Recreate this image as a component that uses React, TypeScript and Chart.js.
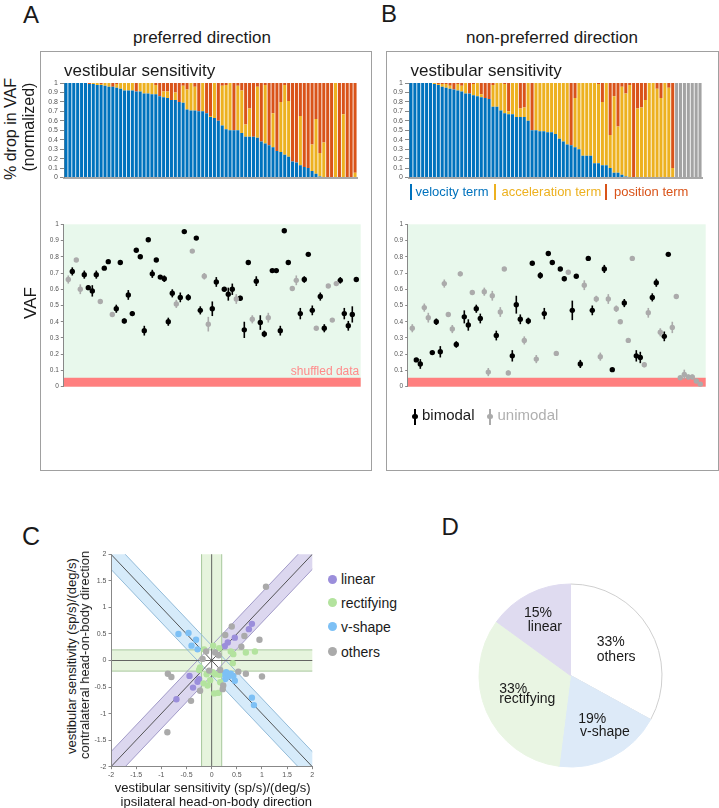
import React, { useEffect, useRef } from 'react';
import { Chart, registerables } from 'chart.js';

Chart.register(...registerables);

const FONT = '"Liberation Sans", Arial, Helvetica, sans-serif';
Chart.defaults.font.family = FONT;

// ---------- Panel A / B : normalized drop in VAF (stacked bars) ----------
// velocity share (bottom of each bar)
const VEL_A = [1,1,1,1,1,1,0.99,0.99,0.98,0.98, 0.97,0.96,0.96,0.95,0.94,0.92,0.92,0.92,0.91,0.91,
  0.89,0.89,0.88,0.88,0.86,0.85,0.84,0.82,0.82,0.80, 0.79,0.72,0.71,0.71,0.70,0.70,0.68,0.64,0.63,0.60,
  0.55,0.51,0.50,0.50,0.50,0.47,0.43,0.43,0.43,0.42, 0.38,0.36,0.34,0.32,0.28,0.27,0.24,0.22,0.17,0.16,
  0.13,0.11,0.10,0.07,0.04,0.01,0,0,0,0, 0,0,0,0,0];
// top of the acceleration share (velocity + acceleration); position term fills the rest to 1
const VEL_ACC_A = [1,1,1,1,1,1,0.99,1,1,0.99, 1,1,0.96,0.99,1,1,1,1,0.91,1,
  1,1,1,0.98,0.86,0.91,0.91,0.82,0.90,0.80, 0.97,0.93,1,0.96,0.70,1,0.68,0.65,1,0.60,
  0.97,0.98,1,0.50,0.97,0.92,0.56,0.73,0.43,0.96, 0.38,0.98,0.34,0.68,0.28,0.80,0.98,0.81,0.17,0.16,
  0.65,0.11,0.10,0.35,0.62,0.26,0.37,0,0,1, 0,0.67,0,0,0.05];
// null = neuron without fit (grey bar)
const VEL_B = [1,1,1,1,1,1,0.99,0.98,0.96,0.95, 0.94,0.93,0.92,0.91,0.89,0.89,0.87,0.86,0.85,0.84,
  0.83,0.75,0.75,0.71,0.68,0.67,0.67,0.64,0.64,0.64, 0.60,0.50,0.50,0.49,0.49,0.48,0.48,0.46,0.41,0.38,
  0.35,0.34,0.32,0.30,0.23,0.23,0.23,0.15,0.15,0.13, 0.13,0.10,0.05,0.05,0.03,0.01,0.005,0,0,0,
  0,0,0,0,0,0,0,0, null,null,null,null,null,null,null];
const VEL_ACC_B = [1,1,1,1,1,1,1,0.99,0.99,0.99, 0.97,0.93,0.99,0.97,1,0.89,0.99,1,0.88,0.84,
  0.83,0.98,1,1,0.99,0.70,1,1,0.73,0.74, 1,0.50,1,1,1,1,1,1,1,1,
  1,0.34,0.84,1,1,1,1,1,0.99,0.80, 1,0.45,0.86,0.54,0.96,0.89,0.98,0,0.73,0.74,
  0.82,1,1,0.94,0.84,1,0.95,0.10, null,null,null,null,null,null,null];

// ---------- Panel A / B : VAF per neuron ----------
const VAF_A = [0.66,0.71,0.78,0.60,0.69,0.61,0.59,0.69,0.525,0.73,
  0.77,0.445,0.48,0.765,0.405,0.565,0.45,0.84,0.80,0.345,
  0.905,0.695,0.78,0.675,0.665,0.40,0.575,0.51,0.55,0.955,
  0.55,0.835,0.915,0.47,0.68,0.385,0.48,0.645,null,0.60,
  0.57,0.60,0.54,0.545,0.35,0.765,0.415,0.65,0.395,0.325,
  0.425,0.715,0.715,0.345,0.96,0.765,0.605,0.655,0.45,0.66,
  0.815,0.47,0.36,0.555,0.36,0.62,0.41,0.635,0.655,0.45,
  0.375,0.445,0.66];
const ERR_A = [0.025,0.025,0.01,0.03,0.025,0.015,0.035,0.025,0.01,0.01,
  0.01,0.015,0.025,0.01,0.015,0.03,0.015,0.01,0.01,0.03,
  0.01,0.025,0.01,0.01,0.02,0.025,0.025,0.025,0.03,0.01,
  0.02,0.01,0.01,0.025,0.02,0.045,0.045,0.03,0,0.01,
  0.04,0.035,0.03,0.015,0.05,0.01,0.025,0.03,0.045,0.02,
  0.03,0.01,0.01,0.03,0.01,0.01,0.015,0.03,0.035,0.02,
  0.01,0.03,0.01,0.025,0.025,0.01,0.01,0.015,0.02,0.035,
  0.03,0.05,0.01];
const BIMODAL_A = [0,1,0,0,1,1,1,1,0,1, 1,0,1,1,1,1,1,1,1,1, 1,1,1,1,1,1,1,0,1,1,
  1,0,1,1,0,0,1,1,0,1, 1,1,0,1,1,1,0,1,1,1, 0,1,1,1,1,1,0,0,1,1, 1,1,0,1,1,0,0,0,1,1, 1,1,1];

const VAF_B = [0.36,0.165,0.14,0.487,0.425,0.21,0.40,0.215,0.635,0.445,
  0.355,0.26,0.695,0.43,0.38,0.58,0.48,0.42,0.585,0.09,
  0.56,0.315,0.46,0.725,0.085,0.19,0.505,0.415,0.285,0.405,
  0.76,0.17,0.685,0.45,0.82,0.765,0.205,0.725,0.665,0.705,
  0.47,0.68,0.14,0.625,0.79,0.47,0.54,0.185,0.725,0.54,
  0.105,0.48,0.40,0.515,0.285,0.79,0.19,0.18,0.135,0.455,
  0.55,0.64,0.335,0.31,0.815,0.365,0.555,0.055,0.075,0.06,
  0.06,0.035,0.015];
const ERR_B = [0.025,0.01,0.03,0.025,0.03,0.01,0.02,0.035,0.025,0.015,
  0.025,0.02,0.015,0.04,0.035,0.01,0.025,0.03,0.025,0.025,
  0.03,0.03,0.03,0.01,0.015,0.035,0.055,0.03,0.025,0.02,
  0.01,0.025,0.02,0.035,0.01,0.01,0.015,0.01,0.015,0.01,
  0.06,0.01,0.025,0.03,0.01,0.03,0.02,0.025,0.025,0.03,
  0.01,0.02,0.01,0.025,0.015,0.01,0.035,0.035,0.015,0.03,
  0.025,0.025,0.025,0.03,0.01,0.035,0.015,0.01,0.03,0.015,
  0.015,0.01,0.01];
const BIMODAL_B = [0,1,1,0,0,1,1,1,0,0, 0,1,0,1,1,0,1,1,0,0, 0,1,0,0,0,1,1,1,0,1,
  1,0,1,1,1,1,0,1,1,0, 1,1,1,0,1,1,0,0,1,0, 1,0,0,1,0,0,1,1,0,0, 1,1,0,1,1,0,0,0,0,0, 0,0,0];
const SHUFFLED_VAF = 0.055;

// ---------- Panel C : sensitivities (ipsi, contra) ----------
const LINEAR_X = [0.80,0.74,0.46,0.32,0.26,-0.44,-0.25,-0.28,-0.37,-0.70];
const LINEAR_Y = [0.69,0.59,0.43,0.34,0.27,-0.29,-0.35,-0.40,-0.51,-0.73];
const RECT_X = [0.03,0.15,-0.15,0.38,0.43,0.68,0.86,0.42,-0.23,-0.25,-0.10,0.02,0.07,0.15,-0.03,-0.16,-0.08,0.17,0.05,0.13];
const RECT_Y = [0.28,0.23,0.21,0.17,0.12,0.15,0.17,-0.05,-0.13,-0.18,-0.26,-0.22,-0.26,-0.27,-0.37,-0.43,-0.47,-0.41,-0.62,-0.61];
const VSHAPE_X = [-0.66,-0.46,-0.31,-0.40,-0.28,0.23,0.29,0.33,0.27,0.38,0.43,0.46,0.80,0.84];
const VSHAPE_Y = [0.50,0.52,0.39,0.28,0.21,-0.25,-0.22,-0.30,-0.35,-0.25,-0.29,-0.38,-0.70,-0.84];
const OTHERS_X = [1.08,0.40,0.27,0.65,0.95,0.59,-0.11,0.07,-0.18,0.14,-0.87,-0.80,-0.05,0.53,0.68,1.0,0.17,0.23,0.22,-0.23,-0.41,-0.88];
const OTHERS_Y = [1.39,0.64,0.48,0.46,0.39,0.26,0.17,0.15,0.03,0.10,-0.25,-0.31,-0.19,-0.21,-0.25,-0.30,-0.18,-0.47,-0.54,-0.57,-0.76,-1.35];
const BAND_HALF = 0.2;

// ---------- Panel D : class shares ----------
const CLASS_NAMES = ['others', 'v-shape', 'rectifying', 'linear'];
const CLASS_PERCENT = [33, 19, 33, 15];

// ---------- colours ----------
const BLUE = '#0072BD', YELLOW = '#EDB120', ORANGE = '#D95319', NOFIT = '#A3A3A3';
const BIMODAL_COLOR = '#000000', UNIMODAL_COLOR = '#ABABAB';
const VAF_BG = '#E8F8EC', SHUFFLE_RED = '#FF7F7F';
const C_LINEAR = '#9B8EDB', C_RECT = '#B3E39E', C_VSHAPE = '#7DC0F5', C_OTHERS = '#AAAAAA';

const fmt = (v: any) => String(Math.round(Number(v) * 10) / 10);

function ChartCanvas({ left, top, width, height, make }: any) {
  const ref = useRef<HTMLCanvasElement>(null);
  useEffect(() => {
    const chart = new Chart(ref.current as HTMLCanvasElement, make());
    return () => chart.destroy();
  }, []);
  return <canvas ref={ref} width={width} height={height}
    style={{ position: 'absolute', left, top, width, height }} />;
}

function Txt({ x, y, size, color = '#1a1a1a', align = 'left', rotate = 0, children }: any) {
  const tx = align === 'center' ? '-50%' : align === 'right' ? '-100%' : '0';
  return (
    <div style={{
      position: 'absolute', left: x, top: y, fontSize: size, lineHeight: 1, fontFamily: FONT,
      color, whiteSpace: 'nowrap', transformOrigin: '0 0',
      transform: `rotate(${rotate}deg) translate(${tx}, -0.8465em)`,
    }}>{children}</div>
  );
}

function yAxisFraction(width: number, fontSize: number, tickLen: number) {
  return {
    min: 0, max: 1,
    afterFit: (s: any) => { s.width = width; },
    ticks: { stepSize: 0.1, autoSkip: false, font: { size: fontSize }, color: '#555', padding: 2, callback: fmt },
    grid: { drawOnChartArea: false, tickLength: tickLen, color: '#888' },
    border: { color: '#888' },
  };
}

function barConfig(vel: (number | null)[], velAcc: (number | null)[]) {
  const labels = vel.map((_, i) => String(i + 1));
  const velSeg = vel.map(v => (v == null ? 0 : v));
  const accSeg = vel.map((v, i) => (v == null ? 0 : (velAcc[i] as number) - v));
  const posSeg = velAcc.map(t => (t == null ? 0 : 1 - t));
  const nofit = vel.map(v => (v == null ? 1 : 0));
  return {
    type: 'bar',
    data: {
      labels,
      datasets: [
        { label: 'velocity term', data: velSeg, backgroundColor: BLUE },
        { label: 'acceleration term', data: accSeg, backgroundColor: YELLOW },
        { label: 'position term', data: posSeg, backgroundColor: ORANGE },
        { label: 'no fit', data: nofit, backgroundColor: NOFIT },
      ],
    },
    options: {
      animation: false, responsive: false, events: [],
      layout: { padding: { top: 8, right: 8, bottom: 5.5, left: 0 } },
      datasets: { bar: { categoryPercentage: 1, barPercentage: 0.78, borderWidth: 0 } },
      plugins: { legend: { display: false }, tooltip: { enabled: false } },
      scales: {
        x: {
          stacked: true,
          afterFit: (s: any) => { s.height = 2; },
          ticks: { display: false },
          grid: { display: false, drawTicks: false },
          border: { display: true, color: '#A8A8A8', width: 2 },
        },
        y: { stacked: true, ...yAxisFraction(44, 7, 4) },
      },
    },
  };
}

function vafConfig(vaf: (number | null)[], err: number[], bimodal: number[], yWidth: number, xMin: number, xMax: number) {
  const pts = (flag: number) => vaf
    .map((v, i) => (v != null && bimodal[i] === flag ? { x: i, y: v } : null))
    .filter(Boolean);
  const bgPlugin = {
    id: 'vafBackground',
    beforeDraw(chart: any) {
      const { ctx, chartArea: a, scales: { y } } = chart;
      const top = y.getPixelForValue(1), bottom = y.getPixelForValue(0);
      const s = y.getPixelForValue(SHUFFLED_VAF);
      ctx.save();
      ctx.fillStyle = VAF_BG;
      ctx.fillRect(a.left, top, a.right - a.left, bottom - top);
      ctx.fillStyle = SHUFFLE_RED;
      ctx.fillRect(a.left, s, a.right - a.left, bottom - s);
      ctx.restore();
    },
  };
  const errPlugin = {
    id: 'errorBars',
    beforeDatasetsDraw(chart: any) {
      const { ctx, scales: { x, y } } = chart;
      ctx.save();
      ctx.lineWidth = 1.6;
      vaf.forEach((v, i) => {
        if (v == null) return;
        ctx.strokeStyle = bimodal[i] ? BIMODAL_COLOR : UNIMODAL_COLOR;
        const px = x.getPixelForValue(i);
        ctx.beginPath();
        ctx.moveTo(px, y.getPixelForValue(v - err[i]));
        ctx.lineTo(px, y.getPixelForValue(v + err[i]));
        ctx.stroke();
      });
      ctx.restore();
    },
  };
  return {
    type: 'scatter',
    data: {
      datasets: [
        { label: 'unimodal', data: pts(0), backgroundColor: UNIMODAL_COLOR, pointRadius: 2.7, pointBorderWidth: 0 },
        { label: 'bimodal', data: pts(1), backgroundColor: BIMODAL_COLOR, pointRadius: 2.7, pointBorderWidth: 0 },
      ],
    },
    options: {
      animation: false, responsive: false, events: [],
      layout: { padding: { top: 8.3, right: 8.3, bottom: 9.3, left: 0 } },
      plugins: { legend: { display: false }, tooltip: { enabled: false } },
      scales: {
        x: { type: 'linear', min: xMin, max: xMax, display: false },
        y: yAxisFraction(yWidth, 6.5, 2.5),
      },
    },
    plugins: [bgPlugin, errPlugin],
  };
}

function sensConfig() {
  const toPts = (xs: number[], ys: number[]) => xs.map((x, i) => ({ x, y: ys[i] }));
  const bandPlugin = {
    id: 'classBands',
    beforeDraw(chart: any) {
      const { ctx, chartArea: a, scales: { x, y } } = chart;
      const W = BAND_HALF, D = BAND_HALF * Math.SQRT2, E = 3;
      const P = (vx: number, vy: number): [number, number] => [x.getPixelForValue(vx), y.getPixelForValue(vy)];
      const poly = (pts: number[][], fill: string) => {
        ctx.beginPath();
        pts.forEach((p, i) => { const [px, py] = P(p[0], p[1]); if (i) ctx.lineTo(px, py); else ctx.moveTo(px, py); });
        ctx.closePath();
        ctx.fillStyle = fill;
        ctx.fill();
      };
      const line = (x1: number, y1: number, x2: number, y2: number, color: string, w: number) => {
        const [a1, b1] = P(x1, y1), [a2, b2] = P(x2, y2);
        ctx.beginPath(); ctx.moveTo(a1, b1); ctx.lineTo(a2, b2);
        ctx.strokeStyle = color; ctx.lineWidth = w; ctx.stroke();
      };
      ctx.save();
      ctx.beginPath();
      ctx.rect(a.left, a.top, a.right - a.left, a.bottom - a.top);
      ctx.clip();
      const green = '#E6F4DD', purple = '#DCD7EF', blue = '#D6EBFA';
      // rectifying: horizontal and vertical bands outside the central square
      poly([[W, -W], [E, -W], [E, W], [W, W]], green);
      poly([[-E, -W], [-W, -W], [-W, W], [-E, W]], green);
      poly([[-W, W], [W, W], [W, E], [-W, E]], green);
      poly([[-W, -E], [W, -E], [W, -W], [-W, -W]], green);
      // linear: band around y = x
      poly([[W, W], [W, W + D], [E - D, E], [E, E], [E, E - D], [W + D, W]], purple);
      poly([[-W, -W], [-W, -W - D], [-E + D, -E], [-E, -E], [-E, -E + D], [-W - D, -W]], purple);
      // v-shape: band around y = -x
      poly([[-W, W], [-W, W + D], [D - E, E], [-E, E], [-E, E - D], [-W - D, W]], blue);
      poly([[W, -W], [W, -W - D], [E - D, -E], [E, -E], [E, D - E], [W + D, -W]], blue);
      // band edges
      const gEdge = '#A7C79C', pEdge = '#A29BC8', bEdge = '#93BBD8';
      line(-E, W, E, W, gEdge, 1); line(-E, -W, E, -W, gEdge, 1);
      line(W, -E, W, E, gEdge, 1); line(-W, -E, -W, E, gEdge, 1);
      line(-E, -E + D, E, E + D, pEdge, 1); line(-E, -E - D, E, E - D, pEdge, 1);
      line(-E, E + D, E, -E + D, bEdge, 1); line(-E, E - D, E, -E - D, bEdge, 1);
      // centre lines
      line(-E, 0, E, 0, '#555', 0.9); line(0, -E, 0, E, '#555', 0.9);
      line(-E, -E, E, E, '#444', 0.9); line(-E, E, E, -E, '#444', 0.9);
      ctx.restore();
    },
  };
  const axis = (isX: boolean) => ({
    type: 'linear', min: -2, max: 2,
    afterFit: (s: any) => { if (isX) s.height = 14; else s.width = 31; },
    ticks: { stepSize: 0.5, autoSkip: false, maxRotation: 0, font: { size: 7 }, color: '#555', padding: 2, callback: fmt },
    grid: { drawOnChartArea: false, tickLength: 2.5, color: '#888' },
    border: { color: '#888' },
  });
  return {
    type: 'scatter',
    data: {
      datasets: [
        { label: 'others', data: toPts(OTHERS_X, OTHERS_Y), backgroundColor: C_OTHERS },
        { label: 'rectifying', data: toPts(RECT_X, RECT_Y), backgroundColor: C_RECT },
        { label: 'v-shape', data: toPts(VSHAPE_X, VSHAPE_Y), backgroundColor: C_VSHAPE },
        { label: 'linear', data: toPts(LINEAR_X, LINEAR_Y), backgroundColor: C_LINEAR },
      ],
    },
    options: {
      animation: false, responsive: false, events: [],
      elements: { point: { radius: 3.2, borderWidth: 0 } },
      layout: { padding: { top: 8.3, right: 7.7, bottom: 3.3, left: 0 } },
      plugins: { legend: { display: false }, tooltip: { enabled: false } },
      scales: { x: axis(true), y: axis(false) },
    },
    plugins: [bandPlugin],
  };
}

function pieConfig() {
  return {
    type: 'pie',
    data: {
      labels: CLASS_NAMES,
      datasets: [{
        data: CLASS_PERCENT,
        backgroundColor: ['#FFFFFF', '#DDEAF8', '#E9F5E3', '#DFDBF0'],
        borderColor: ['#CFCFCF', '#DDEAF8', '#E9F5E3', '#DFDBF0'],
        borderWidth: 1,
      }],
    },
    options: {
      animation: false, responsive: false, events: [],
      layout: { padding: 8.5 },
      plugins: { legend: { display: false }, tooltip: { enabled: false } },
    },
  };
}

const Box = ({ l, t, r, b }: any) => (
  <div style={{ position: 'absolute', left: l, top: t, width: r - l, height: b - t, border: '1px solid #A0A0A0', boxSizing: 'border-box' }} />
);
const VLine = ({ x, y1, y2, w, color }: any) => (
  <div style={{ position: 'absolute', left: x - w / 2, top: y1, width: w, height: y2 - y1, background: color }} />
);
const Dot = ({ x, y, d, color }: any) => (
  <div style={{ position: 'absolute', left: x - d / 2, top: y - d / 2, width: d, height: d, borderRadius: '50%', background: color }} />
);

export default function App() {
  return (
    <div style={{ position: 'absolute', left: 0, top: 0, width: 719, height: 808, overflow: 'hidden', background: '#fff', fontFamily: FONT }}>
      <Box l={40} t={51} r={372} b={471} />
      <Box l={386} t={51} r={719} b={471} />

      <ChartCanvas left={20} top={75} width={345} height={110} make={() => barConfig(VEL_A, VEL_ACC_A)} />
      <ChartCanvas left={365} top={75} width={345} height={110} make={() => barConfig(VEL_B, VEL_ACC_B)} />
      <ChartCanvas left={20} top={216} width={349} height={180} make={() => vafConfig(VAF_A, ERR_A, BIMODAL_A, 43.3, -1.25, 73.1)} />
      <ChartCanvas left={364} top={216} width={350} height={180} make={() => vafConfig(VAF_B, ERR_B, BIMODAL_B, 43.7, -1.15, 73.35)} />
      <ChartCanvas left={80} top={546} width={240} height={238} make={sensConfig} />
      <ChartCanvas left={470} top={575} width={201} height={201} make={pieConfig} />

      <Txt x={23} y={22.5} size={24}>A</Txt>
      <Txt x={381} y={22} size={24}>B</Txt>
      <Txt x={22} y={545} size={25}>C</Txt>
      <Txt x={441.5} y={535} size={24}>D</Txt>

      <Txt x={202} y={43} size={17} align="center">preferred direction</Txt>
      <Txt x={552} y={43} size={17} align="center">non-preferred direction</Txt>
      <Txt x={64} y={76} size={17}>vestibular sensitivity</Txt>
      <Txt x={410.5} y={76} size={17}>vestibular sensitivity</Txt>

      <Txt x={17} y={129} size={16} align="center" rotate={-90}>% drop in VAF</Txt>
      <Txt x={35} y={127} size={16} align="center" rotate={-90}>(normalized)</Txt>
      <Txt x={36} y={303} size={17} align="center" rotate={-90}>VAF</Txt>

      <VLine x={410.5} y1={184} y2={199.5} w={2} color={BLUE} />
      <Txt x={415.5} y={196} size={13} color={BLUE}>velocity term</Txt>
      <VLine x={495} y1={184} y2={199.5} w={2} color={YELLOW} />
      <Txt x={501.5} y={196} size={13} color={YELLOW}>acceleration term</Txt>
      <VLine x={606} y1={184} y2={199.5} w={2} color={ORANGE} />
      <Txt x={614} y={196} size={13} color={ORANGE}>position term</Txt>

      <Txt x={359.3} y={374.7} size={12} align="right" color="#FF8A8A">shuffled data</Txt>

      <VLine x={415} y1={408.5} y2={424.5} w={1.6} color={BIMODAL_COLOR} />
      <Dot x={415} y={416.5} d={5.6} color={BIMODAL_COLOR} />
      <Txt x={422} y={419.5} size={15}>bimodal</Txt>
      <VLine x={490} y1={408.5} y2={424.5} w={1.6} color={UNIMODAL_COLOR} />
      <Dot x={490} y={416.5} d={5.6} color={UNIMODAL_COLOR} />
      <Txt x={497.5} y={419.5} size={15} color="#B0B0B0">unimodal</Txt>

      <Dot x={332.3} y={579.3} d={9} color={C_LINEAR} />
      <Txt x={341} y={584.3} size={14}>linear</Txt>
      <Dot x={332.3} y={602.7} d={9} color={C_RECT} />
      <Txt x={341} y={607.7} size={14}>rectifying</Txt>
      <Dot x={332.3} y={626.7} d={9} color={C_VSHAPE} />
      <Txt x={341} y={631.7} size={14}>v-shape</Txt>
      <Dot x={332.3} y={651.7} d={9} color={C_OTHERS} />
      <Txt x={341} y={656.7} size={14}>others</Txt>

      <Txt x={76} y={656} size={13} align="center" rotate={-90}>vestibular sensitivity (sp/s)/(deg/s)</Txt>
      <Txt x={88.5} y={655} size={13} align="center" rotate={-90}>contralateral head-on-body direction</Txt>
      <Txt x={212.7} y={791.5} size={13} align="center">vestibular sensitivity (sp/s)/(deg/s)</Txt>
      <Txt x={216.3} y={805.5} size={13} align="center">ipsilateral head-on-body direction</Txt>

      <Txt x={524} y={617.3} size={14}>15%</Txt>
      <Txt x={527.7} y={630.7} size={14}>linear</Txt>
      <Txt x={596.7} y={645.7} size={14}>33%</Txt>
      <Txt x={596.7} y={660.7} size={14}>others</Txt>
      <Txt x={499.3} y={692.7} size={14}>33%</Txt>
      <Txt x={499.3} y={703} size={14}>rectifying</Txt>
      <Txt x={578.3} y={723.3} size={14}>19%</Txt>
      <Txt x={580} y={736.3} size={14}>v-shape</Txt>
    </div>
  );
}
